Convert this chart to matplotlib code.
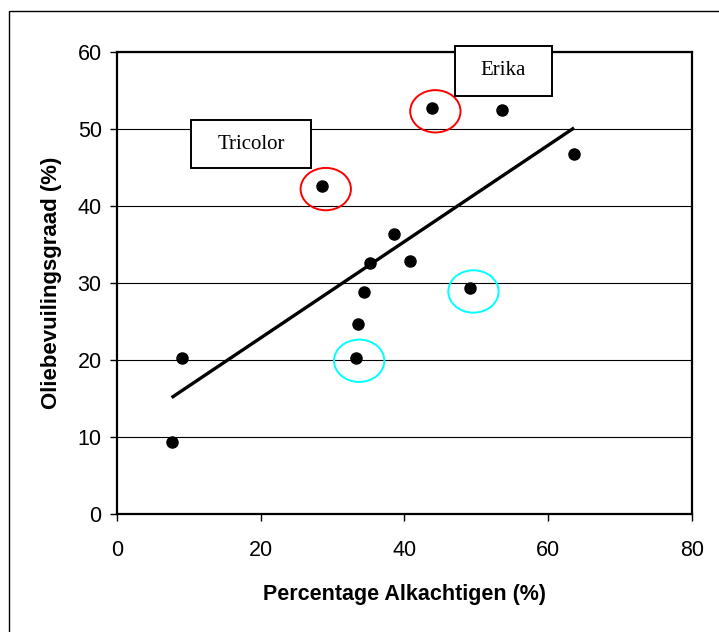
import numpy as np
import matplotlib
matplotlib.use('Agg')
import matplotlib.pyplot as plt
from matplotlib.patches import Ellipse, Rectangle

plt.rcParams['font.family'] = ['Liberation Sans', 'DejaVu Sans']

# ===================== 数据 =====================
alk = [7.6, 9.0, 28.55, 43.8, 53.6, 63.6, 38.5, 35.2, 40.8, 34.3, 33.5, 33.2, 49.1]
olie = [9.4, 20.3, 42.6, 52.7, 52.5, 46.7, 36.4, 32.6, 32.9, 28.8, 24.7, 20.3, 29.3]

# 标注: (点序号, 颜色)
rings = [(2, 'red'), (3, 'red'), (11, 'cyan'), (12, 'cyan')]
labels_box = [('Tricolor', 10.3, 44.9, 16.7, 6.3), ('Erika', 47.0, 54.3, 13.5, 6.5)]

x_ticks = [0, 20, 40, 60, 80]
y_ticks = [0, 10, 20, 30, 40, 50, 60]

# ===================== 绘图 =====================
fig = plt.figure(figsize=(7.19, 6.32), dpi=100)
ax = fig.add_axes([0.1627, 0.1867, 0.7997, 0.7310])

for y in y_ticks[1:]:
    ax.axhline(y, color='black', lw=0.8, zorder=1)

ax.scatter(alk, olie, s=64, color='black', zorder=3)

# 趋势线
k, b = np.polyfit(alk, olie, 1)
xs = np.array([min(alk), max(alk)])
ax.plot(xs, k * xs + b, color='black', lw=2.4, solid_capstyle='butt', zorder=2)

for i, c in rings:
    ax.add_patch(Ellipse((alk[i] + 0.5, olie[i] - 0.4), 7.0, 5.5, fill=False,
                         edgecolor=c, lw=1.4, zorder=4, clip_on=False))

for txt, x0, y0, w, h in labels_box:
    ax.add_patch(Rectangle((x0, y0), w, h, facecolor='white', edgecolor='black',
                           lw=1.4, zorder=5, clip_on=False))
    ax.text(x0 + w / 2, y0 + h / 2, txt, ha='center', va='center', fontsize=15,
            family='Liberation Serif', zorder=6, clip_on=False)

ax.set_xlim(0, 80)
ax.set_ylim(0, 60)
ax.set_xticks(x_ticks)
ax.set_yticks(y_ticks)
ax.tick_params(direction='out', length=5, width=1, labelsize=15.5)
ax.tick_params(axis='x', pad=14)
ax.tick_params(axis='y', pad=6)
for s in ax.spines.values():
    s.set_linewidth(1.6)

ax.set_xlabel('Percentage Alkachtigen (%)', fontsize=15.5, fontweight='bold', labelpad=16)
ax.set_ylabel('Oliebevuilingsgraad (%)', fontsize=16, fontweight='bold', labelpad=11)

# 外框
fig.patches.append(Rectangle((9 / 719, -0.05), 1.2, 1.05 - 11 / 632,
                             transform=fig.transFigure, fill=False,
                             edgecolor='black', lw=1.0))

fig.savefig('out.png', dpi=100)
